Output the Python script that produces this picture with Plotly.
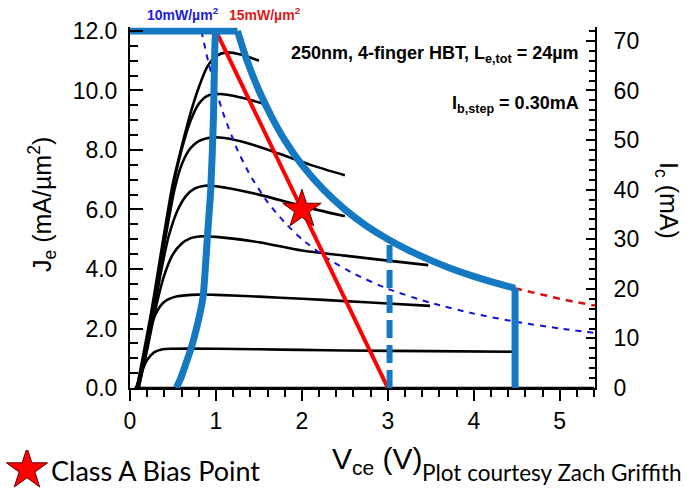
import plotly.graph_objects as go

W, H = 686, 489

# ---------------- data ----------------
# Black I-V family (Vce in V, Je in mA/um^2), one per Ib step
c0_v = [0.05, 1.0, 2.0, 3.0, 4.0, 5.4]
c0_j = [0.0, 0.0, 0.0, 0.0, 0.0, 0.0]
c1_v = [0.07, 0.13, 0.20, 0.28, 0.38, 0.50, 1.0, 1.5, 2.0, 2.5, 3.5, 4.45]
c1_j = [0.0, 0.5, 0.95, 1.2, 1.3, 1.32, 1.32, 1.30, 1.28, 1.26, 1.24, 1.22]
c2_v = [0.08, 0.15, 0.22, 0.30, 0.40, 0.55, 0.8, 1.0, 1.5, 2.0, 2.5, 3.0, 3.49]
c2_j = [0.0, 0.9, 1.8, 2.5, 2.9, 3.08, 3.14, 3.13, 3.07, 3.0, 2.92, 2.84, 2.76]
c3_v = [0.10, 0.20, 0.30, 0.40, 0.50, 0.60, 0.70, 0.85, 1.0, 1.5, 2.0, 2.5, 3.0, 3.47]
c3_j = [0.0, 1.3, 2.7, 3.8, 4.5, 4.85, 5.03, 5.1, 5.08, 4.9, 4.62, 4.45, 4.28, 4.13]
c4_v = [0.10, 0.19, 0.28, 0.36, 0.45, 0.55, 0.65, 0.75, 0.87, 1.0, 1.5, 1.98, 2.5]
c4_j = [0.0, 1.2, 2.6, 3.9, 5.1, 5.95, 6.45, 6.7, 6.8, 6.78, 6.5, 6.13, 5.77]
c5_v = [0.09, 0.18, 0.27, 0.35, 0.44, 0.52, 0.60, 0.70, 0.80, 0.95, 1.1, 1.4, 1.74, 2.1, 2.5]
c5_j = [0.0, 1.2, 2.6, 4.0, 5.5, 6.7, 7.5, 8.05, 8.3, 8.42, 8.4, 8.2, 7.87, 7.5, 7.15]
c6_v = [0.09, 0.17, 0.26, 0.34, 0.43, 0.51, 0.60, 0.70, 0.80, 0.90, 1.05, 1.2, 1.36, 1.6]
c6_j = [0.0, 1.2, 2.6, 4.0, 5.6, 6.9, 8.0, 8.95, 9.55, 9.82, 9.88, 9.82, 9.71, 9.52]
c7_v = [0.08, 0.16, 0.25, 0.33, 0.42, 0.50, 0.60, 0.70, 0.80, 0.90, 1.0, 1.12, 1.3, 1.5]
c7_j = [0.0, 1.2, 2.6, 4.0, 5.6, 6.9, 8.1, 9.2, 10.1, 10.8, 11.15, 11.28, 11.2, 11.0]
iv_curves = [(c0_v, c0_j), (c1_v, c1_j), (c2_v, c2_j), (c3_v, c3_j),
             (c4_v, c4_j), (c5_v, c5_j), (c6_v, c6_j), (c7_v, c7_j)]

# 10 mW/um^2 constant-power contour (blue dashed)
p10_v = [0.83, 0.9, 1.0, 1.1, 1.25, 1.4, 1.6, 1.8, 2.0, 2.3, 2.6, 3.0, 3.5, 4.0, 4.5, 5.0, 5.41]
p10_j = [12.0, 11.1, 10.0, 9.1, 8.0, 7.14, 6.25, 5.56, 5.0, 4.35, 3.85, 3.33, 2.86, 2.5, 2.22, 2.0, 1.85]

# Safe operating boundary (thick blue): Je limit, then 15 mW/um^2 contour
jmax_v = [0.0, 1.25]
jmax_j = [12.0, 12.0]
p15_v = [1.25, 1.35, 1.5, 1.65, 1.8, 2.0, 2.25, 2.5, 2.75, 3.0, 3.25, 3.5, 3.75, 4.0, 4.25, 4.48]
p15_j = [12.0, 11.1, 10.0, 9.1, 8.33, 7.5, 6.67, 6.0, 5.45, 5.0, 4.62, 4.29, 4.0, 3.75, 3.53, 3.35]
# continuation of the 15 mW/um^2 contour (red dashed)
p15x_v = [4.48, 4.75, 5.0, 5.2, 5.41]
p15x_j = [3.35, 3.16, 3.0, 2.88, 2.77]

# Saturation (knee) boundary, thick blue on the left
sat_v = [0.54, 0.60, 0.66, 0.72, 0.79, 0.85, 0.90, 0.94, 0.97, 0.99, 1.0]
sat_j = [0.0, 0.4, 0.9, 1.42, 2.2, 3.07, 5.06, 6.7, 9.0, 11.7, 12.0]

# Breakdown limits: dashed at 3.02 V, solid at 4.48 V
bv1_v = [3.02, 3.02]
bv1_j = [0.0, 4.96]
bv2_v = [4.48, 4.48]
bv2_j = [0.0, 3.35]

# Class-A load line and bias point
load_v = [1.0, 3.0]
load_j = [12.0, 0.0]
bias_v = [2.0]
bias_j = [6.0]

x_range = [0, 5.41]
y_range = [0, 12.12]
area_um2 = 6.0   # Ic (mA) = Je * 6 um^2
y2_range = [y_range[0] * area_um2, y_range[1] * area_um2]

# ---------------- figure ----------------
BLUE = "#1479c2"
fig = go.Figure()

for v, j in iv_curves:
    fig.add_trace(go.Scatter(x=v, y=j, mode="lines",
                             line=dict(color="black", width=2.6, shape="spline", smoothing=0.8),
                             hoverinfo="skip", showlegend=False))

fig.add_trace(go.Scatter(x=p10_v, y=p10_j, mode="lines",
                         line=dict(color="#1010e0", width=2, dash="6px,6px", shape="spline", smoothing=0.5),
                         showlegend=False))
fig.add_trace(go.Scatter(x=p15x_v, y=p15x_j, mode="lines",
                         line=dict(color="#d81010", width=2.5, dash="7px,6px"), showlegend=False))
fig.add_trace(go.Scatter(x=load_v, y=load_j, mode="lines",
                         line=dict(color="#ff0000", width=4), showlegend=False))
fig.add_trace(go.Scatter(x=jmax_v, y=jmax_j, mode="lines",
                         line=dict(color=BLUE, width=7), showlegend=False))
fig.add_trace(go.Scatter(x=p15_v, y=p15_j, mode="lines",
                         line=dict(color=BLUE, width=7, shape="spline", smoothing=0.5), showlegend=False))
fig.add_trace(go.Scatter(x=sat_v, y=sat_j, mode="lines",
                         line=dict(color=BLUE, width=7, shape="spline", smoothing=0.6), showlegend=False))
fig.add_trace(go.Scatter(x=bv1_v, y=bv1_j, mode="lines",
                         line=dict(color=BLUE, width=6, dash="18px,7px"), showlegend=False))
fig.add_trace(go.Scatter(x=bv2_v, y=bv2_j, mode="lines",
                         line=dict(color=BLUE, width=7), showlegend=False))
fig.add_trace(go.Scatter(x=bias_v, y=bias_j, mode="markers",
                         marker=dict(symbol="star", size=29, color="#ff0000",
                                     line=dict(color="#600000", width=1)), showlegend=False))
# right axis (Ic) carrier
fig.add_trace(go.Scatter(x=[bias_v[0]], y=[bias_j[0] * area_um2], yaxis="y2", mode="markers",
                         marker=dict(opacity=0), hoverinfo="skip", showlegend=False))
# legend star glyph on its own hidden axes
fig.add_trace(go.Scatter(x=[0], y=[0], xaxis="x3", yaxis="y3", mode="markers",
                         marker=dict(symbol="star", size=31, color="#ff0000",
                                     line=dict(color="#600000", width=1)), showlegend=False))

def px(x):
    return x / W

def py(y):
    return 1 - y / H

TICKF = dict(family="Liberation Sans, Arial", size=23, color="black")
x_dom = [px(130), px(595)]
y_dom = [py(388), py(27.4)]

fig.update_layout(
    width=W, height=H,
    margin=dict(l=0, r=0, t=0, b=0, autoexpand=False),
    paper_bgcolor="white", plot_bgcolor="white",
    showlegend=False,
    xaxis=dict(domain=x_dom, range=x_range, dtick=1, tick0=0, ticks="outside", ticklen=11, tickwidth=2,
               tickcolor="black", minor=dict(dtick=0.2, ticks="outside", ticklen=7, tickwidth=1.5, tickcolor="black"),
               showline=True, linecolor="black", linewidth=2, showgrid=False, zeroline=False,
               tickfont=TICKF, anchor="y", automargin=False),
    yaxis=dict(domain=y_dom, range=y_range, dtick=2, tick0=0, tickformat=".1f", ticks="inside", ticklen=13,
               tickwidth=2, tickcolor="black",
               minor=dict(dtick=0.5, ticks="inside", ticklen=8, tickwidth=1.5, tickcolor="black"),
               showline=True, linecolor="black", linewidth=2, showgrid=False, zeroline=False,
               tickfont=TICKF, ticklabelstandoff=6, anchor="x", automargin=False),
    yaxis2=dict(domain=y_dom, range=y2_range, dtick=10, tick0=0, overlaying="y", side="right", anchor="x",
                ticks="inside", ticklen=9, tickwidth=2, tickcolor="black",
                minor=dict(dtick=2, ticks="inside", ticklen=6, tickwidth=1.5, tickcolor="black"),
                showline=True, linecolor="black", linewidth=2, showgrid=False, zeroline=False,
                tickfont=TICKF, ticklabelstandoff=12, automargin=False),
    xaxis3=dict(domain=[px(5), px(49)], range=[-1, 1], visible=False, anchor="y3", automargin=False),
    yaxis3=dict(domain=[0, py(450)], range=[-1, 1], visible=False, anchor="x3", automargin=False),
)

ARIAL = "Liberation Sans, Arial"
HUM = "Lato, Open Sans"
ann = [
    dict(text="J<sub>e</sub> (mA/µm<sup>2</sup>)", x=px(42), y=py(205), textangle=-90, xanchor="center",
         font=dict(family=ARIAL, size=25, color="black")),
    dict(text="I<sub>c</sub> (mA)", x=px(667), y=py(200), textangle=90, xanchor="center",
         font=dict(family=ARIAL, size=25, color="black")),
    dict(text="<b>10mW/µm<sup>2</sup></b>", x=px(145), y=py(14), xanchor="left",
         font=dict(family=ARIAL, size=14, color="#2020d8")),
    dict(text="<b>15mW/µm<sup>2</sup></b>", x=px(227), y=py(14), xanchor="left",
         font=dict(family=ARIAL, size=14, color="#e01818")),
    dict(text="<b>250nm, 4-finger HBT, L<sub>e,tot</sub> = 24µm</b>", x=px(581), y=py(55), xanchor="right",
         font=dict(family=ARIAL, size=18, color="black")),
    dict(text="<b>I<sub>b,step</sub> = 0.30mA</b>", x=px(581), y=py(105), xanchor="right",
         font=dict(family=ARIAL, size=18, color="black")),
    dict(text="V<sub>ce</sub> (V)", x=px(330), y=py(460), xanchor="left",
         font=dict(family=ARIAL, size=30, color="black")),
    dict(text="Plot courtesy Zach Griffith", x=px(420), y=py(472), xanchor="left",
         font=dict(family=HUM, size=22.5, color="black")),
    dict(text="Class A Bias Point", x=px(49), y=py(470), xanchor="left",
         font=dict(family=HUM, size=27, color="black")),
]
for a in ann:
    a.update(xref="paper", yref="paper", showarrow=False, yanchor="middle")
fig.update_layout(annotations=ann)

fig.write_html("out.html", config={"displayModeBar": False},
               post_script="document.body.style.margin='0px';document.body.style.overflow='hidden';")
